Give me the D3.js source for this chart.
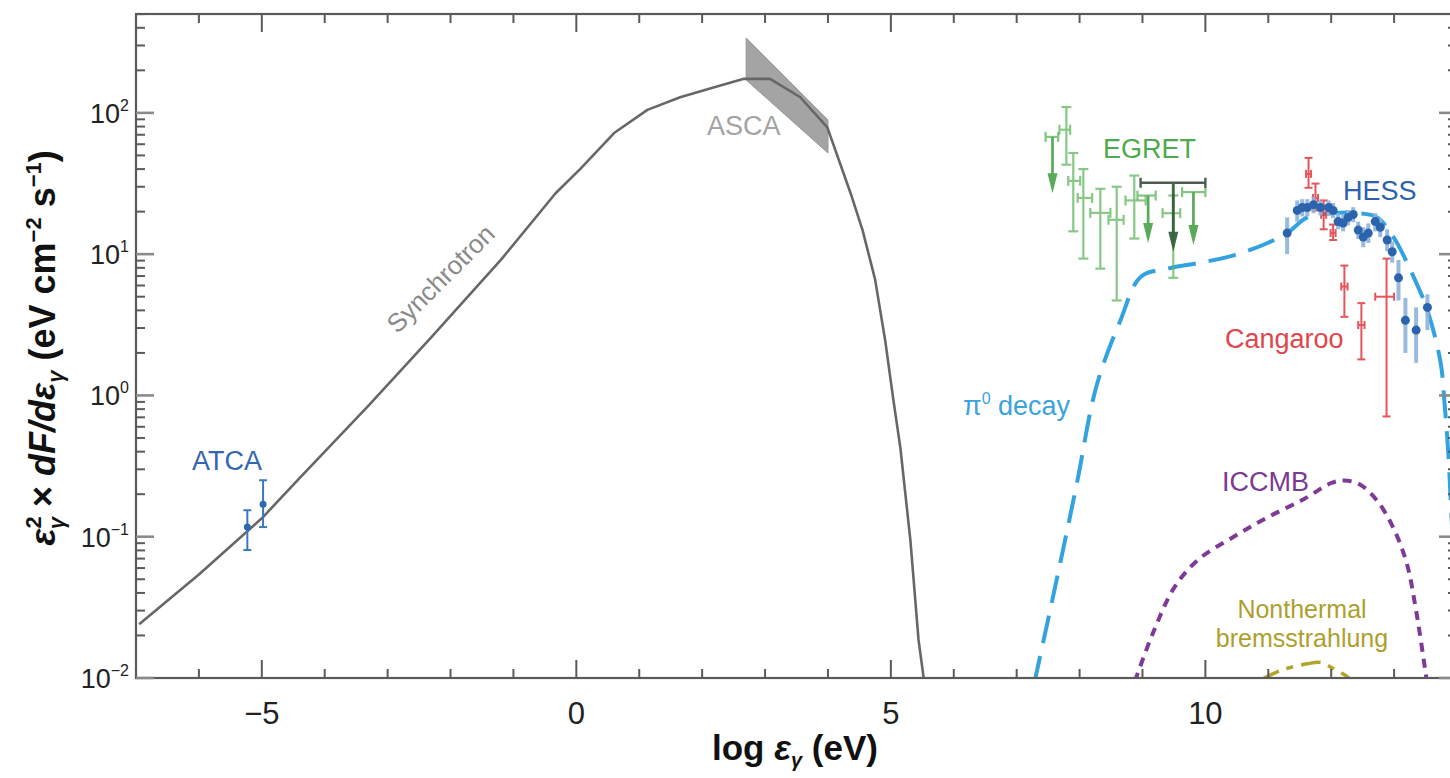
<!DOCTYPE html>
<html><head><meta charset="utf-8">
<script src="https://cdn.jsdelivr.net/npm/d3@7"></script>
<style>body{margin:0;background:#fff;overflow:hidden} svg{display:block} text{font-family:"Liberation Sans",Arial,Helvetica,sans-serif}</style>
</head><body><svg id="c" width="1450" height="778"></svg>
<script>
// ---------- axes ----------
const xDomain = [-7, 14];
const yDomain = [0.01, 501];
const xMajorTicks = [-5, 0, 5, 10];
const xTickLabels = ["\u22125", "0", "5", "10"];
const yMajorTicks = [0.01, 0.1, 1, 10, 100];
const yTickExponents = ["\u22122", "\u22121", "0", "1", "2"];

// ---------- model curves ----------
const synchX = [-6.95, -6.0, -5.0, -4.4, -3.3, -2.3, -1.2, -0.33, 0.06, 0.6, 1.13, 1.65, 2.18, 2.65, 3.08, 3.56, 3.99, 4.36, 4.55, 4.75, 4.91, 5.04, 5.15, 5.31, 5.44, 5.56];
const synchY = [0.024, 0.054, 0.135, 0.26, 0.85, 2.6, 9.1, 27, 40, 72, 105, 129, 151, 174, 174, 129, 79, 27, 14.8, 6.6, 2.45, 0.93, 0.43, 0.095, 0.0186, 0.0075];

const ascaX = [2.70, 4.0];
const ascaUpper = [339, 89];
const ascaLower = [171, 52];

const pionX = [7.28, 7.62, 7.95, 8.27, 8.65, 8.97, 9.40, 9.92, 10.45, 10.99, 11.30, 11.62, 12.03, 12.42, 12.73, 12.99, 13.31, 13.53, 13.74, 13.80, 13.86, 13.92, 14.0];
const pionY = [0.0092, 0.046, 0.23, 1.17, 3.4, 6.9, 7.9, 8.7, 9.8, 12.0, 14.1, 18.2, 19.5, 19.5, 18.2, 13.2, 6.9, 4.0, 1.7, 0.9, 0.40, 0.12, 0.03];

const iccmbX = [8.88, 9.17, 9.51, 9.89, 10.45, 11.00, 11.57, 12.0, 12.2, 12.45, 12.73, 12.99, 13.2, 13.35, 13.52];
const iccmbY = [0.0095, 0.021, 0.044, 0.069, 0.10, 0.138, 0.185, 0.24, 0.25, 0.235, 0.18, 0.115, 0.065, 0.030, 0.0095];

const bremsX = [10.88, 11.24, 11.62, 11.83, 12.03, 12.26, 12.32];
const bremsY = [0.0097, 0.0115, 0.0126, 0.0129, 0.0117, 0.0102, 0.0096];

// ---------- data points ----------
const atcaX = [-5.23, -4.98];
const atcaY = [0.117, 0.170];
const atcaLo = [0.0805, 0.117];
const atcaHi = [0.154, 0.251];

const egretX = [7.79, 7.90, 8.06, 8.33, 8.59, 8.87, 9.49];
const egretY = [76, 33, 25, 19.6, 17.5, 24, 19.5];
const egretLo = [43, 14.5, 9.3, 7.9, 4.7, 12.9, 6.8];
const egretHi = [110, 52, 40, 29, 30, 36, 26];
const egretXlo = [7.68, 7.82, 7.97, 8.17, 8.46, 8.73, 9.32];
const egretXhi = [7.85, 8.01, 8.20, 8.49, 8.70, 9.05, 9.60];

const egretUlX = [7.57, 9.09, 9.81];
const egretUlY = [67.6, 26, 27.5];
const egretUlTip = [27, 12, 11.6];
const egretUlXlo = [7.46, 8.92, 9.63];
const egretUlXhi = [7.66, 9.21, 10.0];

const darkUlX = [9.49];
const darkUlY = [32];
const darkUlTip = [10.4];
const darkUlXlo = [8.97];
const darkUlXhi = [10.0];

const hessX = [11.30, 11.46, 11.54, 11.62, 11.72, 11.83, 11.96, 12.03, 12.11, 12.19, 12.27, 12.35, 12.43, 12.51, 12.59, 12.70, 12.78, 12.89, 12.97, 13.07, 13.18, 13.35, 13.53];
const hessY = [14.1, 20.4, 21.4, 21.4, 22.4, 21.4, 21.4, 20.4, 17.0, 16.6, 18.2, 19.1, 14.8, 13.2, 14.1, 17.0, 15.5, 12.6, 10.4, 6.8, 3.4, 2.9, 4.2];
const hessLo = [10.0, 17, 18.5, 18.5, 19.5, 18.8, 18.8, 18, 15, 14.5, 16, 16.8, 12.8, 11.2, 12, 14.5, 13.2, 10.5, 8.7, 4.7, 2.0, 1.7, 2.9];
const hessHi = [18.2, 24, 24.5, 24.5, 25.5, 24, 24, 23, 19.5, 19, 20.5, 21.5, 17, 15.5, 16.5, 19.5, 18, 15, 12.3, 9.1, 4.9, 4.2, 5.2];

const cangX = [11.64, 11.75, 11.88, 12.03, 12.21, 12.48, 12.88];
const cangY = [37, 25, 19, 14.1, 5.9, 3.15, 5.0];
const cangLo = [29.5, 20.4, 15, 12.6, 3.6, 1.8, 0.71];
const cangHi = [48, 31.6, 24, 16.2, 8.3, 4.5, 9.3];
const cangXlo = [11.60, 11.71, 11.84, 11.99, 12.16, 12.43, 12.70];
const cangXhi = [11.68, 11.79, 11.92, 12.07, 12.26, 12.53, 13.0];

// ---------- drawing ----------
const svg = d3.select("#c");
const L = 136, R = 1457, T = 14, B = 678;
const x = d3.scaleLinear().domain(xDomain).range([L, R]);
const y = d3.scaleLog().domain(yDomain).range([B, T]);

svg.append("clipPath").attr("id", "clip").append("rect")
  .attr("x", L).attr("y", T).attr("width", R - L).attr("height", B - T);
const plot = svg.append("g").attr("clip-path", "url(#clip)");

const zip = (a, b) => a.map((v, i) => [v, b[i]]);

// ASCA band
const band = ascaX.map((v, i) => [v, ascaUpper[i]]).concat(ascaX.map((v, i) => [v, ascaLower[i]]).reverse());
plot.append("path")
  .attr("d", d3.line().x(d => x(d[0])).y(d => y(d[1]))(band) + "Z")
  .attr("fill", "#a4a4a4").attr("stroke", "#959595").attr("stroke-width", 1);

// Synchrotron
plot.append("path").attr("d", d3.line().x(d => x(d[0])).y(d => y(d[1]))(zip(synchX, synchY)))
  .attr("fill", "none").attr("stroke", "#676767").attr("stroke-width", 2.6).attr("stroke-linejoin", "round");

const smooth = d3.line().x(d => x(d[0])).y(d => y(d[1])).curve(d3.curveCatmullRom.alpha(0.5));
plot.append("path").attr("d", smooth(zip(pionX, pionY)))
  .attr("fill", "none").attr("stroke", "#33a3e0").attr("stroke-width", 4).attr("stroke-dasharray", "28,13");
plot.append("path").attr("d", smooth(zip(iccmbX, iccmbY)))
  .attr("fill", "none").attr("stroke", "#7e3a96").attr("stroke-width", 4).attr("stroke-dasharray", "9,7");
plot.append("path").attr("d", smooth(zip(bremsX, bremsY)))
  .attr("fill", "none").attr("stroke", "#b1a52c").attr("stroke-width", 3.5).attr("stroke-dasharray", "20,8,7,8");

// generic error bars
function errs(g, xs, ys, lo, hi, xlo, xhi, color, w, cap, op) {
  const gg = g.append("g").attr("stroke", color).attr("stroke-width", w).attr("opacity", op);
  xs.forEach((v, i) => {
    const cx = x(v);
    gg.append("line").attr("x1", cx).attr("x2", cx).attr("y1", y(lo[i])).attr("y2", y(hi[i]));
    if (cap) {
      [lo[i], hi[i]].forEach(e => gg.append("line").attr("x1", cx - cap).attr("x2", cx + cap).attr("y1", y(e)).attr("y2", y(e)));
    }
    if (xlo) {
      const cy = y(ys[i]);
      gg.append("line").attr("x1", x(xlo[i])).attr("x2", x(xhi[i])).attr("y1", cy).attr("y2", cy);
      if (cap) [xlo[i], xhi[i]].forEach(e => gg.append("line").attr("x1", x(e)).attr("x2", x(e)).attr("y1", cy - cap).attr("y2", cy + cap));
    }
  });
  return gg;
}
function upperLimits(g, xs, ys, tips, xlo, xhi, color, arrowColor, w, op) {
  const gg = g.append("g").attr("opacity", op);
  xs.forEach((v, i) => {
    const cx = x(v), cy = y(ys[i]), ty = y(tips[i]);
    gg.append("line").attr("x1", x(xlo[i])).attr("x2", x(xhi[i])).attr("y1", cy).attr("y2", cy).attr("stroke", color).attr("stroke-width", w);
    [xlo[i], xhi[i]].forEach(e => gg.append("line").attr("x1", x(e)).attr("x2", x(e)).attr("y1", cy - 5).attr("y2", cy + 5).attr("stroke", color).attr("stroke-width", w));
    gg.append("line").attr("x1", cx).attr("x2", cx).attr("y1", cy).attr("y2", ty - 6).attr("stroke", arrowColor).attr("stroke-width", w + 0.5);
    gg.append("path").attr("d", `M${cx - 5},${ty - 20}L${cx + 5},${ty - 20}L${cx},${ty}Z`).attr("fill", arrowColor);
  });
}

// EGRET
errs(plot, egretX, egretY, egretLo, egretHi, egretXlo, egretXhi, "#5fb65f", 2.2, 5, 0.75);
upperLimits(plot, egretUlX, egretUlY, egretUlTip, egretUlXlo, egretUlXhi, "#6cbd6c", "#3d9c3d", 2.2, 0.85);
upperLimits(plot, darkUlX, darkUlY, darkUlTip, darkUlXlo, darkUlXhi, "#3b4a3e", "#2d5a36", 2.4, 0.9);

// ATCA
errs(plot, atcaX, atcaY, atcaLo, atcaHi, null, null, "#3d78bd", 2, 4, 1);
plot.append("g").selectAll("circle").data(zip(atcaX, atcaY)).join("circle")
  .attr("cx", d => x(d[0])).attr("cy", d => y(d[1])).attr("r", 3.5).attr("fill", "#2d68b0");

// Cangaroo
errs(plot, cangX, cangY, cangLo, cangHi, cangXlo, cangXhi, "#e2444a", 2, 4, 0.9);

// HESS
errs(plot, hessX, hessY, hessLo, hessHi, null, null, "#8fb3dc", 4, 0, 0.9);
plot.append("g").selectAll("circle").data(zip(hessX, hessY)).join("circle")
  .attr("cx", d => x(d[0])).attr("cy", d => y(d[1])).attr("r", 4.5).attr("fill", "#2b64ad");

// ---------- frame & ticks ----------
const ax = svg.append("g").attr("stroke", "#5a5a5a");
ax.append("rect").attr("x", L).attr("y", T).attr("width", R - L).attr("height", B - T)
  .attr("fill", "none").attr("stroke-width", 2.2);
const xInts = d3.range(-6, 15);
xInts.forEach(v => {
  const len = xMajorTicks.includes(v) ? 18 : 9;
  ax.append("line").attr("x1", x(v)).attr("x2", x(v)).attr("y1", B).attr("y2", B - len).attr("stroke-width", 2);
  ax.append("line").attr("x1", x(v)).attr("x2", x(v)).attr("y1", T).attr("y2", T + len).attr("stroke-width", 2);
});
const yMinor = [];
yMajorTicks.forEach(m => { for (let k = 2; k <= 9; k++) if (m * k <= yDomain[1]) yMinor.push(m * k); });
yMajorTicks.forEach(m => {
  ax.append("line").attr("x1", L).attr("x2", L + 18).attr("y1", y(m)).attr("y2", y(m)).attr("stroke-width", 2.6).attr("stroke", "#8a8a8a");
  ax.append("line").attr("x1", R).attr("x2", R - 18).attr("y1", y(m)).attr("y2", y(m)).attr("stroke-width", 2.6).attr("stroke", "#8a8a8a");
});
yMinor.forEach(m => {
  ax.append("line").attr("x1", L).attr("x2", L + 9).attr("y1", y(m)).attr("y2", y(m)).attr("stroke-width", 2);
  ax.append("line").attr("x1", R).attr("x2", R - 9).attr("y1", y(m)).attr("y2", y(m)).attr("stroke-width", 2);
});

// tick labels
xMajorTicks.forEach((v, i) => {
  svg.append("text").attr("x", x(v)).attr("y", 724).attr("text-anchor", "middle")
    .attr("font-size", 31).attr("fill", "#222").text(xTickLabels[i]);
});
yMajorTicks.forEach((m, i) => {
  const t = svg.append("text").attr("x", 129).attr("y", y(m) + 10).attr("text-anchor", "end")
    .attr("font-size", 27).attr("fill", "#222");
  t.append("tspan").text("10");
  t.append("tspan").attr("dy", -12).attr("font-size", 16).text(yTickExponents[i]);
});

// axis titles
const xt = svg.append("text").attr("x", 795).attr("y", 760).attr("text-anchor", "middle")
  .attr("font-size", 35).attr("font-weight", "bold").attr("fill", "#111");
xt.append("tspan").text("log ");
xt.append("tspan").attr("font-style", "italic").text("\u03b5");
xt.append("tspan").attr("dy", 7).attr("font-size", 20).attr("font-style", "italic").text("\u03b3");
xt.append("tspan").attr("dy", -7).text(" (eV)");

const yt = svg.append("text").attr("transform", "translate(55,348) rotate(-90)").attr("text-anchor", "middle")
  .attr("font-size", 36).attr("font-weight", "bold").attr("fill", "#111");
yt.append("tspan").attr("font-style", "italic").text("\u03b5");
yt.append("tspan").attr("dy", -14).attr("font-size", 22).text("2");
yt.append("tspan").attr("dx", -13).attr("dy", 23).attr("font-size", 22).attr("font-style", "italic").text("\u03b3");
yt.append("tspan").attr("dy", -9).text(" \u00d7 ");
yt.append("tspan").attr("font-style", "italic").text("dF/d\u03b5");
yt.append("tspan").attr("dy", 8).attr("font-size", 22).attr("font-style", "italic").text("\u03b3");
yt.append("tspan").attr("dy", -8).text(" (eV cm");
yt.append("tspan").attr("dy", -14).attr("font-size", 22).text("\u22122");
yt.append("tspan").attr("dy", 14).text(" s");
yt.append("tspan").attr("dy", -14).attr("font-size", 22).text("\u22121");
yt.append("tspan").attr("dy", 14).text(")");

// annotations
function label(txt, px, py, color, anchor, size) {
  return svg.append("text").attr("x", px).attr("y", py).attr("font-size", size || 27)
    .attr("fill", color).attr("text-anchor", anchor || "start").text(txt);
}
label("ATCA", 192, 470, "#3467b0");
label("ASCA", 707, 135, "#a3a3a3");
label("EGRET", 1103, 158, "#4fa94f");
label("HESS", 1343, 200, "#2c62ab");
label("Cangaroo", 1225, 348, "#e0464b");
label("ICCMB", 1222, 491, "#7b3a93");
label("Nonthermal", 1302, 618, "#ad9f2e", "middle", 25);
label("bremsstrahlung", 1302, 647, "#ad9f2e", "middle", 25);
const pi = svg.append("text").attr("x", 963).attr("y", 415).attr("font-size", 27).attr("fill", "#3aa3e0");
pi.append("tspan").text("\u03c0");
pi.append("tspan").attr("dy", -11).attr("font-size", 16).text("0");
pi.append("tspan").attr("dy", 11).text(" decay");
svg.append("text").attr("transform", "translate(447,285) rotate(-45)").attr("text-anchor", "middle")
  .attr("font-size", 26).attr("fill", "#8a8a8a").text("Synchrotron");
</script></body></html>
